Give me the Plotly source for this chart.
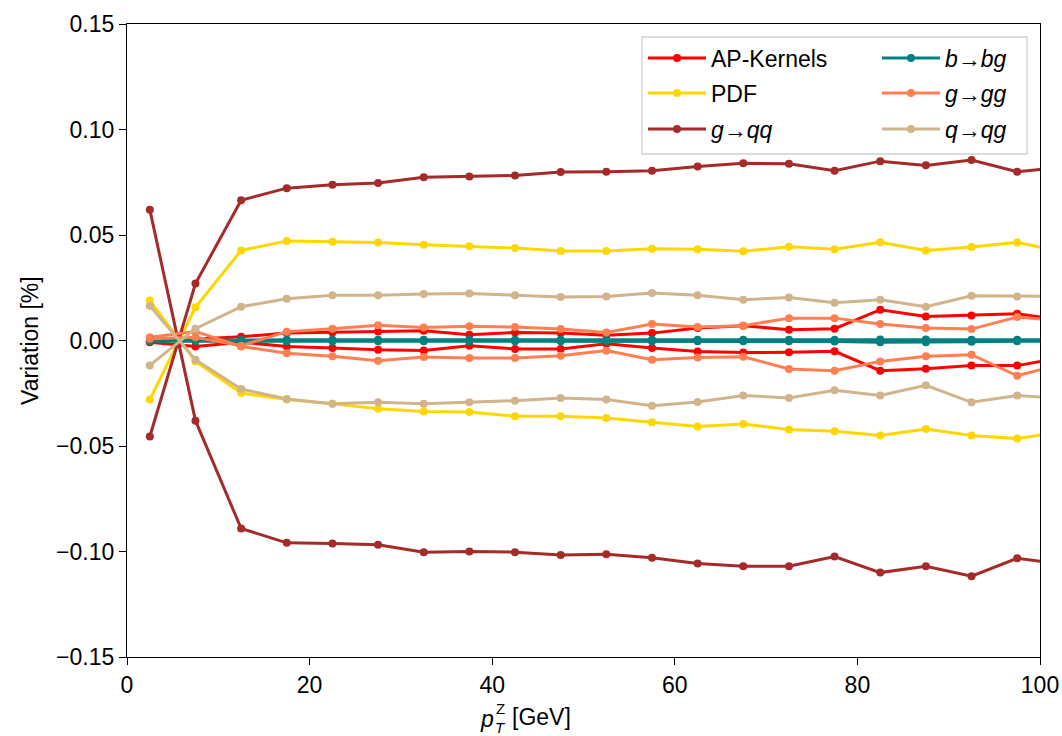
import plotly.graph_objects as go

# ---- data ----
pt = [2.5, 7.5, 12.5, 17.5, 22.5, 27.5, 32.5, 37.5, 42.5, 47.5, 52.5,
      57.5, 62.5, 67.5, 72.5, 77.5, 82.5, 87.5, 92.5, 97.5, 102.5]

ap_up = [-0.0005, 0.0005, 0.0018, 0.0035, 0.0038, 0.0043, 0.0046, 0.0027, 0.0038, 0.0035, 0.0025,
         0.0035, 0.0059, 0.0070, 0.0051, 0.0056, 0.0146, 0.0114, 0.0119, 0.0127, 0.0095]
ap_dn = [-0.0008, -0.0028, -0.0008, -0.0028, -0.0036, -0.0044, -0.0047, -0.0025, -0.0040, -0.0040, -0.0015,
         -0.0036, -0.0052, -0.0057, -0.0056, -0.0051, -0.0143, -0.0134, -0.0119, -0.0119, -0.0080]

pdf_up = [-0.0280, 0.0157, 0.0427, 0.0471, 0.0468, 0.0465, 0.0454, 0.0447, 0.0438, 0.0424, 0.0424,
          0.0435, 0.0433, 0.0423, 0.0444, 0.0433, 0.0466, 0.0427, 0.0443, 0.0465, 0.0420]
pdf_dn = [0.0189, -0.0099, -0.0249, -0.0280, -0.0300, -0.0324, -0.0336, -0.0339, -0.0359, -0.0359, -0.0367,
          -0.0388, -0.0407, -0.0396, -0.0422, -0.0430, -0.0450, -0.0420, -0.0450, -0.0465, -0.0430]

gqq_up = [-0.0455, 0.0270, 0.0665, 0.0722, 0.0738, 0.0747, 0.0774, 0.0777, 0.0782, 0.0799, 0.0800,
          0.0805, 0.0825, 0.0840, 0.0838, 0.0805, 0.0850, 0.0830, 0.0855, 0.0800, 0.0820]
gqq_dn = [0.0620, -0.0380, -0.0891, -0.0959, -0.0962, -0.0968, -0.1003, -0.1000, -0.1003, -0.1016, -0.1013,
          -0.1030, -0.1057, -0.1070, -0.1070, -0.1024, -0.1100, -0.1070, -0.1117, -0.1032, -0.1060]

bbg_up = [0.0000, 0.0002, 0.0002, 0.0003, 0.0003, 0.0003, 0.0003, 0.0003, 0.0003, 0.0003, 0.0002,
          0.0003, 0.0003, 0.0003, 0.0003, 0.0004, 0.0005, 0.0005, 0.0004, 0.0003, 0.0003]
bbg_dn = [-0.0003, -0.0003, -0.0002, -0.0003, -0.0003, -0.0003, -0.0003, -0.0003, -0.0003, -0.0003, -0.0002,
          -0.0003, -0.0003, -0.0003, -0.0004, -0.0005, -0.0008, -0.0008, -0.0006, -0.0004, -0.0004]

ggg_up = [0.0008, 0.0015, -0.0025, 0.0042, 0.0056, 0.0072, 0.0062, 0.0067, 0.0064, 0.0054, 0.0038,
          0.0078, 0.0064, 0.0070, 0.0106, 0.0106, 0.0078, 0.0059, 0.0054, 0.0111, 0.0093]
ggg_dn = [0.0015, 0.0043, -0.0028, -0.0060, -0.0075, -0.0096, -0.0078, -0.0083, -0.0083, -0.0072, -0.0048,
          -0.0091, -0.0080, -0.0077, -0.0135, -0.0143, -0.0099, -0.0075, -0.0067, -0.0167, -0.0110]

qqg_up = [-0.0118, 0.0056, 0.0160, 0.0198, 0.0215, 0.0215, 0.0220, 0.0223, 0.0215, 0.0206, 0.0209,
          0.0225, 0.0215, 0.0193, 0.0204, 0.0179, 0.0193, 0.0160, 0.0212, 0.0209, 0.0209]
qqg_dn = [0.0165, -0.0091, -0.0230, -0.0277, -0.0300, -0.0293, -0.0300, -0.0293, -0.0285, -0.0272, -0.0280,
          -0.0309, -0.0291, -0.0261, -0.0272, -0.0236, -0.0261, -0.0212, -0.0293, -0.0261, -0.0275]

series_names = ["AP-Kernels", "PDF", "<i>g</i>→<i>qq</i>",
                "<i>b</i>→<i>bg</i>", "<i>g</i>→<i>gg</i>", "<i>q</i>→<i>qg</i>"]
series_colors = ["#ff0000", "#ffd700", "#a52a2a", "#008080", "#ff7f50", "#d2b48c"]
series_vals = [(ap_up, ap_dn), (pdf_up, pdf_dn), (gqq_up, gqq_dn),
               (bbg_up, bbg_dn), (ggg_up, ggg_dn), (qqg_up, qqg_dn)]

# page body margin is removed by a post script; work in page pixel coords
OFF = 0
W, H = 1062, 736
ML, MR, MT, MB = 127, 22, 24, 79
PW, PH = W - ML - MR, H - MT - MB


def px_x(p):
    return (p - OFF - ML) / PW


def px_y(p):
    return (H - MB - (p - OFF)) / PH


FONT = "Liberation Sans, Arial, Helvetica, sans-serif"
fsz = 23

# legend slots (2 columns x 3 rows, matplotlib ncol=2 style)
leg_ids = ["legend", "legend2", "legend3", "legend4", "legend5", "legend6"]
leg_cols = [643, 643, 643, 877, 877, 877]
leg_rows = [58, 93, 129, 58, 93, 129]

fig = go.Figure()
for i, (name, col, (up, dn)) in enumerate(zip(series_names, series_colors, series_vals)):
    for k, yv in enumerate((up, dn)):
        fig.add_trace(go.Scatter(
            x=pt, y=yv, mode="lines+markers", name=name,
            line=dict(color=col, width=3),
            marker=dict(color=col, size=8, symbol="circle"),
            showlegend=(k == 0), legend=leg_ids[i], legendgroup=name,
        ))

legends = {}
for lid, lx, ly in zip(leg_ids, leg_cols, leg_rows):
    legends[lid] = dict(x=px_x(lx), y=px_y(ly), xanchor="left", yanchor="middle",
                        bgcolor="rgba(0,0,0,0)", borderwidth=0, itemwidth=58,
                        font=dict(size=fsz, family=FONT, color="black"))

ann = [
    dict(text="Variation [%]", x=px_x(30), y=px_y(341), xref="paper", yref="paper",
         textangle=-90, showarrow=False, font=dict(size=fsz), xanchor="center", yanchor="middle"),
    dict(text="<i>p</i>", x=px_x(478), y=px_y(719), xref="paper", yref="paper",
         showarrow=False, font=dict(size=fsz), xanchor="left", yanchor="middle"),
    dict(text="Z", x=px_x(494), y=px_y(708), xref="paper", yref="paper",
         showarrow=False, font=dict(size=15), xanchor="left", yanchor="middle"),
    dict(text="<i>T</i>", x=px_x(493), y=px_y(727), xref="paper", yref="paper",
         showarrow=False, font=dict(size=15), xanchor="left", yanchor="middle"),
    dict(text="[GeV]", x=px_x(510), y=px_y(717), xref="paper", yref="paper",
         showarrow=False, font=dict(size=fsz), xanchor="left", yanchor="middle"),
]

fig.update_layout(
    width=W, height=H,
    margin=dict(l=ML, r=MR, t=MT, b=MB, autoexpand=False),
    paper_bgcolor="white", plot_bgcolor="white",
    font=dict(family=FONT, size=fsz, color="black"),
    xaxis=dict(range=[0, 100], tickvals=[0, 20, 40, 60, 80, 100], automargin=False,
               showgrid=False, zeroline=False, showline=True, linecolor="black",
               linewidth=1.3, mirror=True, ticks="outside", ticklen=7, tickwidth=1.3,
               tickcolor="black"),
    yaxis=dict(range=[-0.15, 0.15], tickvals=[-0.15, -0.10, -0.05, 0.0, 0.05, 0.10, 0.15],
               tickformat=".2f", automargin=False,
               showgrid=False, zeroline=False, showline=True, linecolor="black",
               linewidth=1.3, mirror=True, ticks="outside", ticklen=7, tickwidth=1.3,
               tickcolor="black"),
    annotations=ann,
    shapes=[dict(type="rect", xref="paper", yref="paper",
                 x0=px_x(642), x1=px_x(1027), y0=px_y(154), y1=px_y(37),
                 line=dict(color="#d0d0d0", width=1.3),
                 fillcolor="rgba(255,255,255,0.8)", layer="above")],
    **legends,
)

fig.write_html("out.html", config={"displayModeBar": False},
               post_script="document.body.style.margin='0';document.body.style.overflow='hidden';")
